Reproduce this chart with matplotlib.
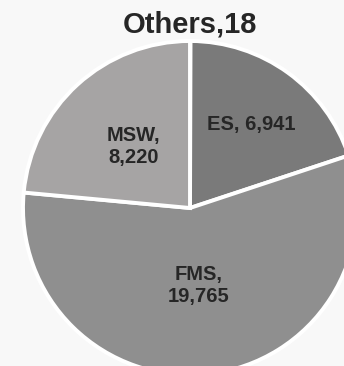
import matplotlib.pyplot as plt
import numpy as np

# data
categories = ["Others", "ES", "FMS", "MSW"]
values = [18, 6941, 19765, 8220]
label_texts = ["Others,18", "ES, 6,941", "FMS,\n19,765", "MSW,\n8,220"]

colors = ["#8a8a8a", "#7a7a7a", "#8f8f8f", "#a6a4a4"]
label_dist = [1.1, 0.62, 0.47, 0.5]
label_size = [21, 14.5, 14.5, 14.5]

plt.rcParams['font.family'] = ['Liberation Sans', 'DejaVu Sans']

fig = plt.figure(figsize=(3.44, 3.66), dpi=100)
fig.patch.set_facecolor("#f8f8f8")
ax = fig.add_axes([0, 0, 1, 1])
ax.set_facecolor("#f8f8f8")

wedges, texts = ax.pie(values, colors=colors, startangle=90, counterclock=False,
                       labels=label_texts, labeldistance=0.5,
                       wedgeprops=dict(edgecolor="white", linewidth=2.8))

for w, t, d, s in zip(wedges, texts, label_dist, label_size):
    ang = np.deg2rad((w.theta1 + w.theta2) / 2)
    t.set_position((d * np.cos(ang), d * np.sin(ang)))
    t.set_ha("center")
    t.set_va("center")
    t.set_fontsize(s)
    t.set_fontweight("bold")
    t.set_color("#262626")
    t.set_linespacing(1.2)

# pie centre sits at (190, 208) px with radius ~167 px, clipped on right/bottom
r = 167.0
ax.set_aspect("auto")
ax.set_xlim(-190 / r, (344 - 190) / r)
ax.set_ylim(-(366 - 208) / r, 208 / r)
ax.axis("off")

fig.savefig("out.png", dpi=100, facecolor=fig.get_facecolor())
